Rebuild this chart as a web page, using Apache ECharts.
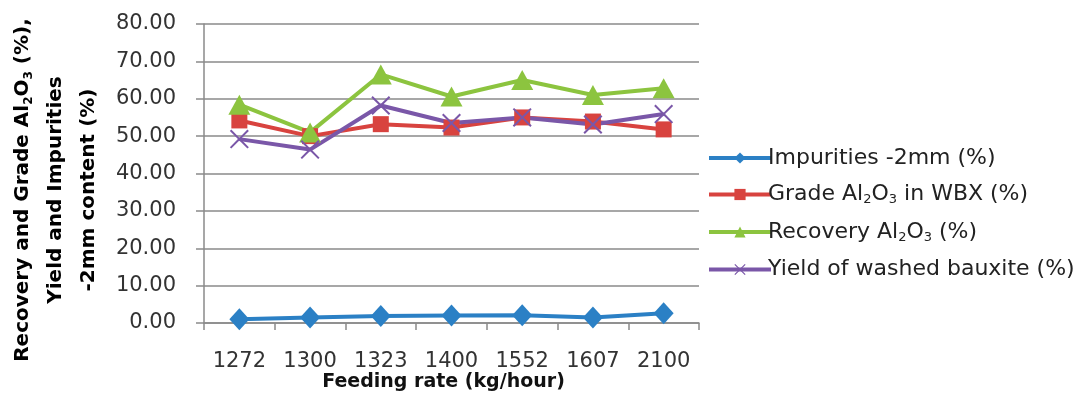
<!DOCTYPE html>
<html>
<head>
<meta charset="utf-8">
<style>
  html, body { margin: 0; padding: 0; background: #fff; }
  #chart { width: 1083px; height: 419px; }
</style>
<script src="https://cdn.jsdelivr.net/npm/echarts@6/dist/echarts.min.js"></script>
</head>
<body>
<div id="chart"></div>
<script>
// Feeding rate categories (kg/hour)
const feedingRates = ['1272', '1300', '1323', '1400', '1552', '1607', '2100'];

// Measured values per feeding rate (%)
const impurities = [1.0, 1.5, 1.9, 2.0, 2.1, 1.5, 2.6];
const gradeAl2O3 = [54.2, 50.0, 53.2, 52.3, 55.0, 53.9, 51.8];
const recoveryAl2O3 = [58.4, 51.0, 66.5, 60.6, 65.0, 61.0, 62.8];
const yieldWashed = [49.2, 46.4, 58.2, 53.5, 55.0, 53.1, 55.9];

// Y-axis tick values
const yTicks = [0, 10, 20, 30, 40, 50, 60, 70, 80];

const FONT = 'DejaVu Sans';
const colors = { blue: '#2b80c5', red: '#d8433f', green: '#8cc43f', purple: '#7a57a8' };

// Cross-shaped marker used for the yield series
const crossPath = 'path://M0,1.5 L1.5,0 L10,8.5 L18.5,0 L20,1.5 L11.5,10 L20,18.5 L18.5,20 L10,11.5 L1.5,20 L0,18.5 L8.5,10 Z';

const legendRich = {
  t: { fontFamily: FONT, fontSize: 22, color: '#222', lineHeight: 24 },
  s: { fontFamily: FONT, fontSize: 13, color: '#222', lineHeight: 24, verticalAlign: 'bottom', padding: [10, 0, 0, 0] }
};

const legendText = {
  'Impurities -2mm (%)': '{t|Impurities -2mm (%)}',
  'Grade Al2O3 in WBX (%)': '{t|Grade Al}{s|2}{t|O}{s|3}{t| in WBX (%)}',
  'Recovery Al2O3 (%)': '{t|Recovery Al}{s|2}{t|O}{s|3}{t| (%)}',
  'Yield of washed bauxite (%)': '{t|Yield of washed bauxite (%)}'
};

function lineSeries(name, data, color, symbol, size) {
  return {
    name: name,
    type: 'line',
    data: data,
    symbol: symbol,
    symbolSize: size,
    showAllSymbol: true,
    lineStyle: { color: color, width: 4 },
    itemStyle: { color: color, borderWidth: 0 },
    emphasis: { disabled: true },
    z: 2
  };
}

const chart = echarts.init(document.getElementById('chart'), null, { renderer: 'canvas' });

chart.setOption({
  animation: false,
  backgroundColor: '#ffffff',
  grid: { left: 204, right: 384, top: 24, bottom: 96, containLabel: false },
  xAxis: {
    type: 'category',
    data: feedingRates,
    boundaryGap: true,
    axisLine: { lineStyle: { color: '#8a8a8a', width: 1.5 } },
    axisTick: { show: true, length: 7, lineStyle: { color: '#8a8a8a', width: 1.5 } },
    axisLabel: { fontFamily: FONT, fontSize: 21, color: '#333', margin: 28 },
    name: 'Feeding rate (kg/hour)',
    nameLocation: 'middle',
    nameGap: 50,
    nameMoveOverlap: false,
    nameTextStyle: { fontFamily: FONT, fontSize: 19, fontWeight: 'bold', color: '#111', padding: [0, 16, 0, 0] }
  },
  yAxis: {
    type: 'value',
    min: yTicks[0],
    max: yTicks[yTicks.length - 1],
    interval: yTicks[1] - yTicks[0],
    axisLine: { show: true, lineStyle: { color: '#8a8a8a', width: 1.5 } },
    axisTick: { show: true, length: 8, lineStyle: { color: '#8a8a8a', width: 1.5 } },
    axisLabel: {
      fontFamily: FONT, fontSize: 21, color: '#333', margin: 28,
      formatter: v => v.toFixed(2)
    },
    splitLine: { show: true, lineStyle: { color: '#8a8a8a', width: 1.5 } }
  },
  legend: {
    orient: 'vertical',
    left: 702,
    top: 142,
    itemWidth: 62,
    itemHeight: 14,
    itemGap: 14.5,
    selectedMode: false,
    lineStyle: { width: 4 },
    formatter: name => legendText[name],
    textStyle: { rich: legendRich, padding: [0, 0, 0, -8] },
    data: ['Impurities -2mm (%)', 'Grade Al2O3 in WBX (%)', 'Recovery Al2O3 (%)', 'Yield of washed bauxite (%)']
  },
  graphic: [{
    type: 'text',
    x: 56,
    y: 190,
    rotation: Math.PI / 2,
    style: {
      text: '{b|Recovery and Grade Al}{bs|2}{b|O}{bs|3}{b| (%),}\n{b|Yield and Impurities}\n{b|-2mm content (%)}',
      align: 'center',
      verticalAlign: 'middle',
      lineHeight: 33,
      rich: {
        b: { fontFamily: FONT, fontSize: 20, fontWeight: 'bold', color: '#111', lineHeight: 33 },
        bs: { fontFamily: FONT, fontSize: 12, fontWeight: 'bold', color: '#111', lineHeight: 33, padding: [12, 0, 0, 0] }
      }
    }
  }],
  series: [
    lineSeries('Impurities -2mm (%)', impurities, colors.blue, 'diamond', [20, 22]),
    lineSeries('Grade Al2O3 in WBX (%)', gradeAl2O3, colors.red, 'rect', 16),
    lineSeries('Recovery Al2O3 (%)', recoveryAl2O3, colors.green, 'triangle', [22, 20]),
    lineSeries('Yield of washed bauxite (%)', yieldWashed, colors.purple, crossPath, 19)
  ]
});
</script>
</body>
</html>
